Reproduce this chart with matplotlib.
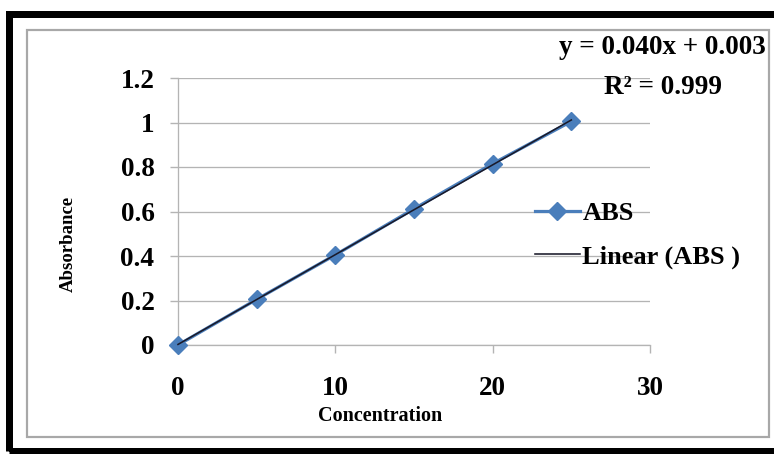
import numpy as np
import matplotlib
matplotlib.use("Agg")
import matplotlib.pyplot as plt
from matplotlib.patches import Rectangle

# Data
concentration = [0, 5, 10, 15, 20, 25]
absorbance = [0.0, 0.205, 0.405, 0.612, 0.815, 1.005]
x_ticks = [0, 10, 20, 30]
y_ticks = [0, 0.2, 0.4, 0.6, 0.8, 1.0, 1.2]
y_tick_labels = ["0", "0.2", "0.4", "0.6", "0.8", "1", "1.2"]
equation_text = "y = 0.040x + 0.003"
r2_text = "R² = 0.999"

W, H = 774, 454
plt.rcParams['font.family'] = ['Liberation Serif', 'DejaVu Serif']
plt.rcParams['font.weight'] = 'bold'

fig = plt.figure(figsize=(W / 100, H / 100), dpi=100)
fig.patch.set_facecolor('white')

def fx(px):
    return px / W

def fy(py):
    return 1 - py / H

# outer black frame (right edge cut off)
fig.patches.append(Rectangle((fx(8.5), fy(450.5)), fx(800) - fx(8.5), fy(13.5) - fy(450.5),
                             transform=fig.transFigure, fill=False, edgecolor='black',
                             linewidth=7 * 0.72, clip_on=False))
# inner gray chart border
fig.patches.append(Rectangle((fx(27), fy(437)), fx(769) - fx(27), fy(30) - fy(437),
                             transform=fig.transFigure, fill=False, edgecolor='#a8a8a8',
                             linewidth=2.2 * 0.72, clip_on=False))

ax = fig.add_axes([fx(178), fy(345), fx(650) - fx(178), fy(78) - fy(345)])
ax.set_facecolor('none')
ax.set_xlim(0, 30)
ax.set_ylim(0, 1.2)
ax.set_xticks(x_ticks)
ax.set_yticks(y_ticks)
ax.set_yticklabels(y_tick_labels)
ax.grid(axis='y', color='#b4b4b4', linewidth=1.3 * 0.72)
ax.set_axisbelow(True)
for s in ['top', 'right']:
    ax.spines[s].set_visible(False)
for s in ['left', 'bottom']:
    ax.spines[s].set_color('#b4b4b4')
    ax.spines[s].set_linewidth(1.3 * 0.72)
ax.tick_params(axis='y', direction='out', length=6, width=1, color='#b4b4b4',
               labelsize=19.5, pad=11)
ax.tick_params(axis='x', direction='out', length=6, width=1, color='#b4b4b4',
               labelsize=19.5, pad=16)
for lab in ax.get_xticklabels() + ax.get_yticklabels():
    lab.set_fontweight('bold')

blue = '#4a7ebb'
ax.plot(concentration, absorbance, color=blue, linewidth=3.2 * 0.72, marker='D',
        markersize=9, markerfacecolor=blue, markeredgecolor=blue, label='ABS',
        clip_on=False, zorder=3)
coef = np.polyfit(concentration, absorbance, 1)
xs = np.array([concentration[0], concentration[-1]])
ax.plot(xs, np.polyval(coef, xs), color='#1a1a2a', linewidth=1.6 * 0.72,
        label='Linear (ABS )', zorder=4, clip_on=False)

ax.set_xlabel('Concentration', fontsize=14.5, fontweight='bold')
ax.xaxis.set_label_coords(fx(380), fy(416), transform=fig.transFigure)
ax.xaxis.label.set_verticalalignment('center')
ax.set_ylabel('Absorbance', fontsize=13.5, fontweight='bold')
ax.yaxis.set_label_coords(fx(68), fy(244), transform=fig.transFigure)
ax.yaxis.label.set_verticalalignment('center')

leg = ax.legend(loc='center left', bbox_to_anchor=(fx(535), fy(235)),
                bbox_transform=fig.transFigure, frameon=False,
                borderpad=0, borderaxespad=0, handlelength=1.7, handletextpad=0.1,
                labelspacing=0.75, prop={'weight': 'bold', 'size': 19})

fig.text(fx(662), fy(48), equation_text, ha='center', va='center',
         fontsize=19.5, fontweight='bold')
fig.text(fx(663), fy(88), r2_text, ha='center', va='center',
         fontsize=19.5, fontweight='bold')

fig.savefig('out.png', dpi=100)
